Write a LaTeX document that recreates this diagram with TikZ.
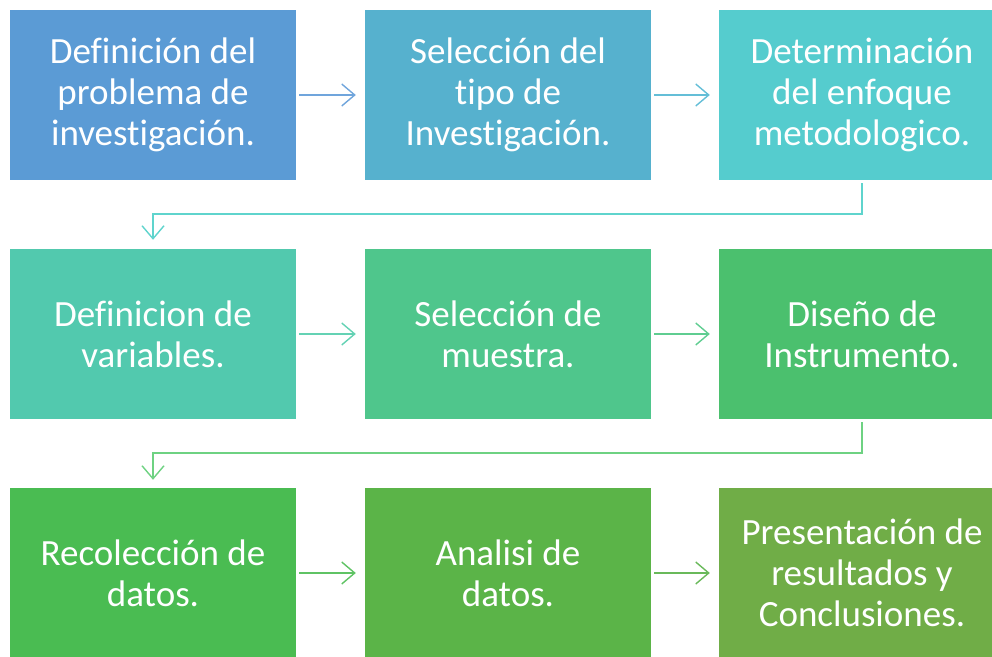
\documentclass[tikz,border=0pt]{standalone}
\usepackage{fontspec}
\setmainfont[Ligatures=NoCommon]{Carlito}
\usetikzlibrary{arrows.meta}
\definecolor{c1}{RGB}{91,155,213}
\definecolor{c2}{RGB}{86,177,206}
\definecolor{c3}{RGB}{85,204,206}
\definecolor{c4}{RGB}{82,201,174}
\definecolor{c5}{RGB}{79,198,140}
\definecolor{c6}{RGB}{75,192,110}
\definecolor{c7}{RGB}{74,188,82}
\definecolor{c8}{RGB}{91,180,72}
\definecolor{c9}{RGB}{112,173,71}
\definecolor{a1}{RGB}{112,165,220}
\definecolor{a2}{RGB}{100,190,215}
\definecolor{a3}{RGB}{95,212,205}
\definecolor{a4}{RGB}{100,210,180}
\definecolor{a5}{RGB}{95,205,145}
\definecolor{a6}{RGB}{110,210,130}
\definecolor{a7}{RGB}{95,195,100}
\definecolor{a8}{RGB}{105,185,90}
\tikzset{
  x=1pt,y=1pt,
  stepbox/.style={fill=#1, draw=none, minimum width=286pt, minimum height=170pt,
    inner sep=0pt, text=white, align=center,
    font=\fontsize{37}{41}\selectfont},
  conn/.style={draw=#1, line width=1.4pt, -{Straight Barb[length=13pt,width=22pt,line width=1.4pt]}},
}
\begin{document}
\begin{tikzpicture}
\useasboundingbox (0,0) rectangle (992,656);
\begin{scope}
\clip (0,0) rectangle (992,656);
\node[stepbox=c1] (b1) at (153,561) {Definición del\\problema de\\investigación.};
\node[stepbox=c2] (b2) at (508,561) {Selección del\\tipo de\\Investigación.};
\node[stepbox=c3] (b3) at (862,561) {Determinación\\del enfoque\\metodologico.};
\node[stepbox=c4] (b4) at (153,322) {Definicion de\\variables.};
\node[stepbox=c5] (b5) at (508,322) {Selección de\\muestra.};
\node[stepbox=c6] (b6) at (862,322) {Diseño de\\Instrumento.};
\node[stepbox=c7] (b7) at (153,83) {Recolección de\\datos.};
\node[stepbox=c8] (b8) at (508,83) {Analisi de\\datos.};
\node[stepbox=c9] (b9) at (862,83) {Presentación de\\resultados y\\Conclusiones.};
\end{scope}
\draw[conn=a1] ([xshift=3pt]b1.east) -- ([xshift=-9pt]b2.west);
\draw[conn=a2] ([xshift=3pt]b2.east) -- ([xshift=-9pt]b3.west);
\draw[conn=a3] ([yshift=-3pt]b3.south) -- ++(0,-31) -| ([yshift=9pt]b4.north);
\draw[conn=a4] ([xshift=3pt]b4.east) -- ([xshift=-9pt]b5.west);
\draw[conn=a5] ([xshift=3pt]b5.east) -- ([xshift=-9pt]b6.west);
\draw[conn=a6] ([yshift=-3pt]b6.south) -- ++(0,-31) -| ([yshift=8pt]b7.north);
\draw[conn=a7] ([xshift=3pt]b7.east) -- ([xshift=-9pt]b8.west);
\draw[conn=a8] ([xshift=3pt]b8.east) -- ([xshift=-9pt]b9.west);
\end{tikzpicture}
\end{document}
